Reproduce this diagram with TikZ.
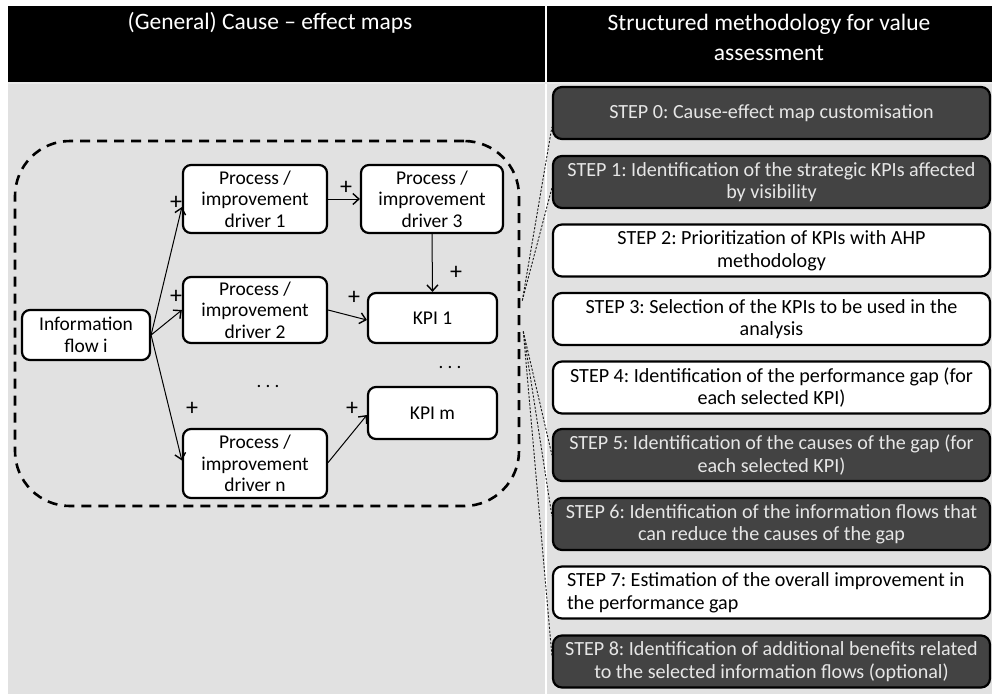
\documentclass[tikz,border=0pt]{standalone}
\usepackage{fontspec}
\setmainfont{Carlito}
\usetikzlibrary{arrows.meta,calc}
\frenchspacing

\definecolor{panelgray}{HTML}{E1E1E1}
\definecolor{stepfill}{HTML}{434343}
\definecolor{steptext}{HTML}{E6E6E6}

\tikzset{
  headtext/.style={text=white, font=\fontsize{23.5}{30}\selectfont, align=flush center, inner sep=0},
  mapbox/.style={draw=black, line width=2.2pt, fill=white, rounded corners=8pt,
    font=\fontsize{19.5}{21.7}\selectfont, align=flush center, inner sep=0},
  plus/.style={font=\fontsize{24}{24}\selectfont, inner sep=0},
  dots/.style={font=\fontsize{19}{19}\selectfont, inner sep=0},
  link/.style={line width=1pt, -{Straight Barb[length=6pt,width=11pt,line width=1.4pt]}},
  mapframe/.style={draw=black, line width=2.6pt, dash pattern=on 10pt off 7pt,
    rounded corners=55pt, inner sep=0},
  stepbase/.style={draw=black, line width=2.2pt, rounded corners=9pt,
    minimum width=437pt, minimum height=52pt, inner sep=0,
    font=\fontsize{20.1}{22.5}\selectfont, align=flush center},
  stepdark/.style={stepbase, fill=stepfill, text=steptext},
  steplight/.style={stepbase, fill=white, text=black},
  tie/.style={line width=0.9pt, draw=black!90, dash pattern=on 2.2pt off 1.6pt},
}

\begin{document}
\begin{tikzpicture}[x=1pt,y=-1pt]
\useasboundingbox (0,0) rectangle (992,694);
\fill[white] (0,0) rectangle (992,694);

% header band and panels
\fill[black] (8,6) rectangle (992,82);
\fill[panelgray] (8,83.5) rectangle (992,694);
\draw[white, line width=1.6pt] (546,6) -- (546,694);
\draw[white!92!black, line width=1.2pt] (8,83) -- (992,83);

\node[headtext] (hleft) at (270,23) {(General) Cause -- effect maps};
\node[headtext] (hright) at (769,37) {Structured methodology for value\\assessment};

% cause-effect map
\node[mapframe, minimum width=504pt, minimum height=365pt] (map) at (267,323.5) {};

\node[mapbox, minimum width=128pt, minimum height=50pt] (info) at (86,335) {Information\\flow i};
\node[mapbox, minimum width=144pt, minimum height=68pt] (d1) at (255,199) {Process /\\improvement\\driver 1};
\node[mapbox, minimum width=142pt, minimum height=68pt] (d3) at (432,199) {Process /\\improvement\\driver 3};
\node[mapbox, minimum width=144pt, minimum height=66pt] (d2) at (255,310) {Process /\\improvement\\driver 2};
\node[mapbox, minimum width=129pt, minimum height=50pt] (kpi1) at (432.5,318) {KPI 1};
\node[mapbox, minimum width=144pt, minimum height=69pt] (dn) at (255,463.5) {Process /\\improvement\\driver n};
\node[mapbox, minimum width=129pt, minimum height=52pt] (kpim) at (432.5,413) {KPI m};

\draw[link] (info.east) -- ($(d1.west)+(0,8)$);
\draw[link] (info.east) -- (d2.west);
\draw[link] (info.east) -- ($(dn.west)+(0,-3)$);
\draw[link] (d1.east) -- (d3.west);
\draw[link] (d3.south) -- (kpi1.north);
\draw[link] (d2.east) -- ($(kpi1.west)+(0,2)$);
\draw[link] ($(dn.east)+(0,-1)$) -- ($(kpim.west)+(0,2)$);

\node[plus] (p1) at (176,203) {+};
\node[plus] (p2) at (346,188) {+};
\node[plus] (p3) at (456,273) {+};
\node[plus] (p4) at (176,297) {+};
\node[plus] (p5) at (354,298) {+};
\node[plus] (p6) at (192,409) {+};
\node[plus] (p7) at (352,409) {+};

\node[dots] (e1) at (268,386) {. . .};
\node[dots] (e2) at (450,367) {. . .};

% methodology steps
\node[stepdark] (s0) at (771.5,113) {STEP 0: Cause-effect map customisation};
\node[stepdark] (s1) at (771.5,182) {STEP 1: Identification of the strategic KPIs affected\\by visibility};
\node[steplight] (s2) at (771.5,250.5) {STEP 2: Prioritization of KPIs with AHP\\methodology};
\node[steplight] (s3) at (771.5,319) {STEP 3: Selection of the KPIs to be used in the\\analysis};
\node[steplight] (s4) at (771.5,387.5) {STEP 4: Identification of the performance gap (for\\each selected KPI)};
\node[stepdark] (s5) at (771.5,455) {STEP 5: Identification of the causes of the gap (for\\each selected KPI)};
\node[stepdark] (s6) at (771.5,524) {STEP 6: Identification of the information flows that\\can reduce the causes of the gap};
\node[steplight, align=flush left, text width=419pt, inner xsep=9pt] (s7) at (771.5,592.5) {\hspace*{5pt}STEP 7: Estimation of the overall improvement in\\\hspace*{5pt}the performance gap};
\node[stepdark] (s8) at (771.5,661.5) {STEP 8: Identification of additional benefits related\\to the selected information flows (optional)};

% links from the map to the steps that use it
\coordinate (hubA) at ($(map.east)+(2,-23)$);
\coordinate (hubB) at ($(map.east)+(3,8)$);
\draw[tie] (hubA) -- ($(s0.west)+(0,14)$);
\draw[tie] (hubA) -- ($(s1.west)+(0,6)$);
\draw[tie] (hubB) -- (s5.west);
\draw[tie] (hubB) -- ($(s6.west)+(0,-8)$);
\draw[tie] (hubB) -- ($(s8.west)+(0,-6)$);
\end{tikzpicture}
\end{document}
